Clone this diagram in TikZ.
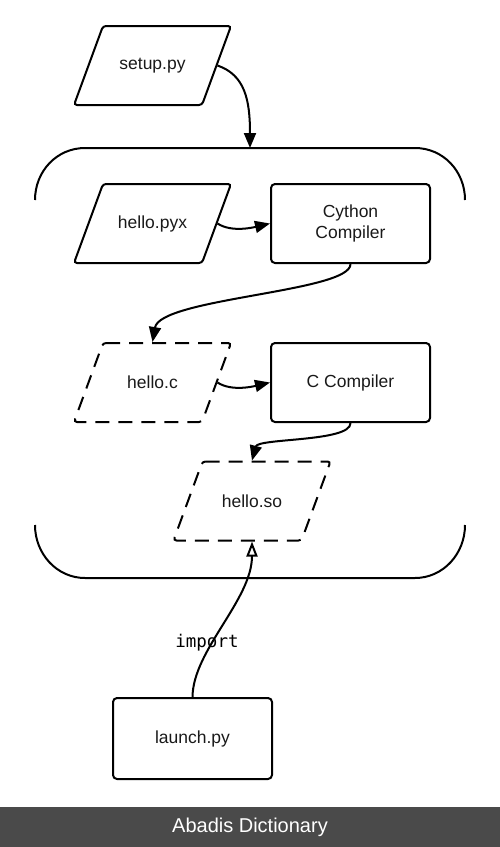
\documentclass[tikz,border=0pt]{standalone}
\usepackage{fontspec}
\setmainfont{Liberation Sans}
\newfontfamily\codefont{DejaVu Sans Mono}
\usetikzlibrary{arrows.meta}
\definecolor{footergray}{HTML}{4A4A4A}
\begin{document}
\begin{tikzpicture}[x=1pt,y=-1pt, line width=2pt,
  lbl/.style={font=\fontsize{17.5}{21}\selectfont, align=center, text=black!90},
  parabox/.style={lbl, minimum width=128pt, minimum height=79pt, inner sep=0pt},
  procbox/.style={lbl, draw, rounded corners=4pt, minimum width=159pt, minimum height=79pt, inner sep=0pt},
  conn/.style={-{Triangle[length=15pt,width=12pt]}},
  impconn/.style={-{Triangle[length=15pt,width=11pt,fill=white]}},
  dashline/.style={dash pattern=on 14pt off 9pt}
]
\useasboundingbox (0,0) rectangle (500,847);

% container
\draw (35,200) .. controls (35,171) and (57,148) .. (85,148) -- (415,148)
      .. controls (443,148) and (465,171) .. (465,200);
\draw (35,525) .. controls (35,554) and (57,578) .. (85,578) -- (415,578)
      .. controls (443,578) and (465,554) .. (465,525);
\coordinate (ctop) at (250,148);

% nodes
\node[parabox] (setup) at (152.5,65.5) {setup.py};
\node[parabox] (pyx) at (152.5,223.5) {hello.pyx};
\node[procbox] (cython) at (350.5,223.5) {Cython\\Compiler};
\node[parabox] (helloc) at (152.5,382.5) {hello.c};
\node[procbox] (ccomp) at (350.5,382.5) {C Compiler};
\node[parabox] (helloso) at (252,501) {hello.so};
\node[procbox, minimum height=81pt] (launch) at (192.5,738.5) {launch.py};

% parallelogram outlines
\foreach \n/\s in {setup/solid, pyx/solid, helloc/dashline, helloso/dashline}
  \draw[\s, rounded corners=3pt]
    ([shift={(-49.5,-39.5)}]\n.center) -- ([shift={(78.5,-39.5)}]\n.center)
    -- ([shift={(49.5,39.5)}]\n.center) -- ([shift={(-78.5,39.5)}]\n.center) -- cycle;

% connectors
\draw[conn] (setup.east) .. controls (245,75) and (250,100) .. (ctop);
\draw[conn] (pyx.east) .. controls (232,233) and (255,227) .. (cython.west);
\draw[conn] (cython.south) .. controls (351,292) and (160,298) .. (helloc.north);
\draw[conn] (helloc.east) .. controls (232,392) and (255,386) .. (ccomp.west);
\draw[conn] (ccomp.south) .. controls (351,442) and (258,438) .. (helloso.north);
\draw[impconn] (launch.north) .. controls (193,650) and (252,600) .. (helloso.south);
\node[font=\codefont\fontsize{17.5}{21}\selectfont, inner sep=0pt] (implbl) at (207,643) {import};

% footer
\fill[footergray] (0,807) rectangle (500,847);
\node[text=white, font=\fontsize{20}{24}\selectfont] (footer) at (250,827) {Abadis Dictionary};
\end{tikzpicture}
\end{document}
